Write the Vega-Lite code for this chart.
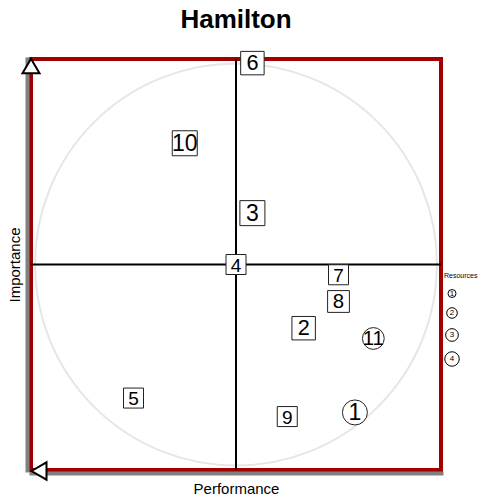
{
  "$schema": "https://vega.github.io/schema/vega-lite/v6.json",
  "width": 410,
  "height": 411,
  "autosize": {"type": "none"},
  "padding": {"left": 31, "top": 59, "right": 43, "bottom": 29},
  "title": {"text": "Hamilton", "fontSize": 26, "fontWeight": "bold", "font": "Liberation Sans", "color": "#000", "anchor": "middle", "offset": 16},
  "config": {
    "view": {"stroke": "#a00000", "strokeWidth": 4},
    "font": "Liberation Sans",
    "axis": {"labels": false, "ticks": false, "grid": false, "domainColor": "#808080", "domainWidth": 4, "domainCap": "square", "titleFontSize": 15, "titleFontWeight": "normal", "titleColor": "#000", "titleFont": "Liberation Sans", "zindex": 0},
    "axisX": {"offset": 3, "titlePadding": 8},
    "axisY": {"offset": 4, "titlePadding": 5}
  },
  "data": {"values": [
    {"id": "1", "x": 0.58, "y": -0.72, "resources": 4, "type": "special"},
    {"id": "2", "x": 0.33, "y": -0.31, "resources": 3, "type": "standard"},
    {"id": "3", "x": 0.08, "y": 0.25, "resources": 4, "type": "standard"},
    {"id": "4", "x": 0.0, "y": 0.0, "resources": 1, "type": "standard"},
    {"id": "5", "x": -0.5, "y": -0.65, "resources": 1, "type": "standard"},
    {"id": "6", "x": 0.08, "y": 0.98, "resources": 3, "type": "standard"},
    {"id": "7", "x": 0.5, "y": -0.05, "resources": 1, "type": "standard"},
    {"id": "8", "x": 0.5, "y": -0.18, "resources": 2, "type": "standard"},
    {"id": "9", "x": 0.25, "y": -0.74, "resources": 1, "type": "standard"},
    {"id": "10", "x": -0.25, "y": 0.59, "resources": 4, "type": "standard"},
    {"id": "11", "x": 0.67, "y": -0.36, "resources": 2, "type": "special"}
  ]},
  "layer": [
    {
      "data": {"values": [{}]},
      "mark": {"type": "point", "shape": "circle", "size": 161604, "filled": false, "stroke": "#e6e6e6", "strokeWidth": 2, "opacity": 1},
      "encoding": {
        "x": {"datum": 0, "type": "quantitative", "scale": {"domain": [-1, 1], "nice": false, "zero": false}, "title": "Performance"},
        "y": {"datum": 0, "type": "quantitative", "scale": {"domain": [-1, 1], "nice": false, "zero": false}, "title": "Importance"}
      }
    },
    {
      "data": {"values": [{}]},
      "mark": {"type": "rule", "color": "#000", "strokeWidth": 2},
      "encoding": {"y": {"datum": 0, "type": "quantitative", "title": "Importance"}}
    },
    {
      "data": {"values": [{}]},
      "mark": {"type": "rule", "color": "#000", "strokeWidth": 2},
      "encoding": {"x": {"datum": 0, "type": "quantitative", "title": "Performance"}}
    },
    {
      "mark": {"type": "point", "filled": false, "color": "#000", "strokeWidth": 1, "opacity": 1},
      "encoding": {
        "x": {"field": "x", "type": "quantitative", "title": "Performance"},
        "y": {"field": "y", "type": "quantitative", "title": "Importance"},
        "size": {"field": "resources", "type": "quantitative", "scale": {"domain": [1, 4], "range": [64, 210], "zero": false},
          "legend": {"title": "Resources", "orient": "none", "legendX": 413, "legendY": 213, "titleFontSize": 7, "titleFontWeight": "normal", "titleColor": "#000", "titlePadding": 10, "labelFontSize": 8, "labelColor": "#000", "labelAlign": "center", "labelOffset": -8, "values": [1, 2, 3, 4], "format": "d", "symbolStrokeColor": "#000", "symbolFillColor": "transparent", "symbolStrokeWidth": 1, "symbolType": "circle", "rowPadding": 5}}
      }
    },
    {
      "mark": {"type": "point", "filled": true, "fill": "#fff", "stroke": "#222", "strokeWidth": 1, "opacity": 1},
      "encoding": {
        "x": {"field": "x", "type": "quantitative", "title": "Performance"},
        "y": {"field": "y", "type": "quantitative", "title": "Importance"},
        "shape": {"field": "type", "type": "nominal", "scale": {"domain": ["standard", "special"], "range": ["square", "circle"]}, "legend": null},
        "size": {"field": "resources", "type": "quantitative", "scale": {"domain": [1, 4], "range": [400, 625], "zero": false}, "legend": null}
      }
    },
    {
      "mark": {"type": "text", "color": "#000", "font": "Liberation Sans", "baseline": "middle", "align": "center", "dy": 1},
      "encoding": {
        "x": {"field": "x", "type": "quantitative", "title": "Performance"},
        "y": {"field": "y", "type": "quantitative", "title": "Importance"},
        "text": {"field": "id"},
        "size": {"field": "resources", "type": "quantitative", "scale": {"domain": [1, 4], "range": [19, 23], "zero": false}, "legend": null}
      }
    },
    {
      "data": {"values": [{}]},
      "mark": {"type": "point", "shape": "triangle-up", "size": 290, "filled": true, "fill": "#fff", "stroke": "#000", "strokeWidth": 2, "opacity": 1, "yOffset": 7},
      "encoding": {
        "x": {"datum": -1, "type": "quantitative", "title": "Performance"},
        "y": {"datum": 1, "type": "quantitative", "title": "Importance"}
      }
    },
    {
      "data": {"values": [{}]},
      "mark": {"type": "point", "shape": "triangle-left", "size": 300, "filled": true, "fill": "#fff", "stroke": "#000", "strokeWidth": 2, "opacity": 1, "xOffset": 8, "yOffset": 1},
      "encoding": {
        "x": {"datum": -1, "type": "quantitative", "title": "Performance"},
        "y": {"datum": -1, "type": "quantitative", "title": "Importance"}
      }
    }
  ],
  "resolve": {"scale": {"size": "independent"}}
}
